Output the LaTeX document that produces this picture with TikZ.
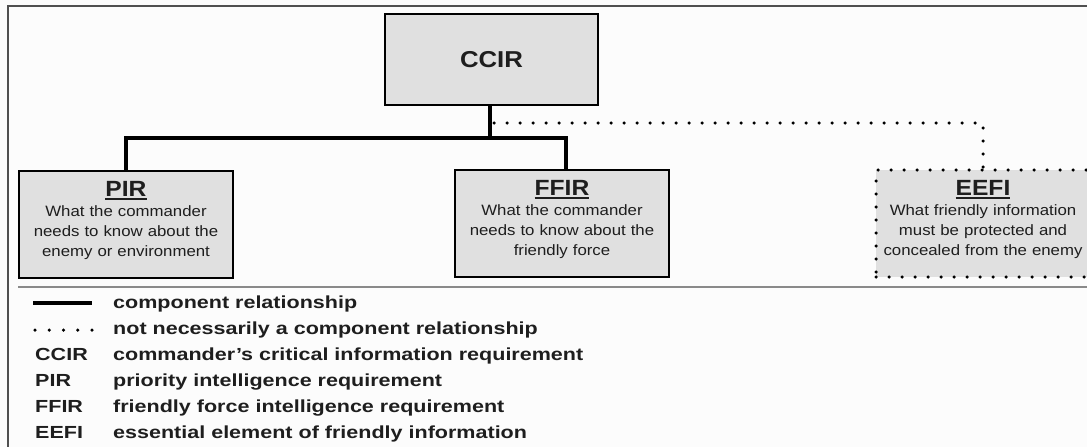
\documentclass[tikz,border=0pt]{standalone}
\usepackage{fontspec}
\setmainfont{Liberation Sans}[FakeStretch=1.12]
\newfontfamily\keyfont{Liberation Sans}[FakeStretch=1.23]
\usetikzlibrary{positioning,calc}
\definecolor{boxgray}{HTML}{E0E0E0}
\definecolor{framegray}{HTML}{505050}
\definecolor{rulegray}{HTML}{8A8A8A}
\definecolor{inkgray}{HTML}{1E1E1E}
\newcommand\boxtitle[1]{\setbox0=\hbox{#1}\rlap{\rule[-3.6pt]{\wd0}{2pt}}\box0}
\tikzset{
	req/.style={draw=black, line width=1.8pt, fill=boxgray, text=inkgray,
		minimum width=214, minimum height=107, inner sep=0pt,
		text width=212, align=center, text depth=71pt,
		font=\fontsize{15}{20}\selectfont},
	top req/.style={draw=black, line width=1.8pt, fill=boxgray, text=inkgray,
		minimum width=213, minimum height=91, inner sep=0pt,
		font=\fontsize{23}{23}\selectfont\bfseries},
	hidden req/.style={req, line width=3.5pt, line cap=round, dash pattern=on 0pt off 13pt},
	comp/.style={line width=3.2pt},
	notcomp/.style={line width=3.5pt, line cap=round, dash pattern=on 0pt off 13pt},
	keytext/.style={anchor=base west, inner sep=0pt, text=inkgray,
		font=\keyfont\fontsize{17.5}{20}\selectfont\bfseries},
}
\begin{document}
\begin{tikzpicture}[x=1pt, y=-1pt]
	\useasboundingbox (0,0) rectangle (1087,447);
	\fill[white!99!black] (0,0) rectangle (1087,447);
	\draw[framegray, line width=2.6pt] (1092,6) -- (8,6) -- (8,452);

	\node[top req] (ccir) at (491.5,59.5) {CCIR};
	\node[req] (pir) at (126,224.5)
		{{\fontsize{22}{22}\selectfont\bfseries\boxtitle{PIR}}\\ What the commander\\ needs to know about the\\ enemy or environment};
	\node[req] (ffir) at (562,223.5)
		{{\fontsize{22}{22}\selectfont\bfseries\boxtitle{FFIR}}\\ What the commander\\ needs to know about the\\ friendly force};
	\node[hidden req] (eefi) at (983,223.5)
		{{\fontsize{22}{22}\selectfont\bfseries\boxtitle{EEFI}}\\ What friendly information\\ must be protected and\\ concealed from the enemy};

	\coordinate (hub) at (490,138);
	\coordinate (fork) at (490,123);
	\draw[comp] (ccir.south -| hub) -- (hub);
	\draw[comp] (pir.north) |- (hub) -| ([xshift=4pt]ffir.north);
	\draw[notcomp] ([xshift=4pt]fork) -| (eefi.north);

	% key
	\draw[rulegray, line width=2pt] (18,287) -- (1090,287);
	\node[keytext] (rel1) at (113,308) {component relationship};
	\node[keytext] (rel2) at (113,334) {not necessarily a component relationship};
	\draw[comp, line width=4pt] ([xshift=-80pt, yshift=5pt]rel1.base west) -- ([xshift=-21pt, yshift=5pt]rel1.base west);
	\draw[notcomp, dash pattern=on 0pt off 14.25pt] ([xshift=-78pt, yshift=4pt]rel2.base west) -- ([xshift=-20pt, yshift=4pt]rel2.base west);
	\foreach \abbrv/\descr [count=\i] in {CCIR/commander’s critical information requirement,
			PIR/priority intelligence requirement, FFIR/friendly force intelligence requirement,
			EEFI/essential element of friendly information} {
		\node[keytext] (abbr\i) at (35,{334+26*\i}) {\abbrv};
		\node[keytext] (mean\i) at (113,{334+26*\i}) {\descr};
	}
\end{tikzpicture}
\end{document}
